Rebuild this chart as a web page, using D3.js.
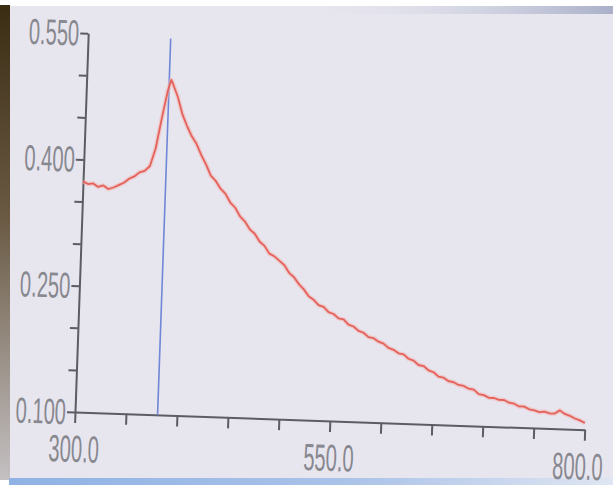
<!DOCTYPE html>
<html>
<head>
<meta charset="utf-8">
<script src="https://cdn.jsdelivr.net/npm/d3@7"></script>
<style>
  html, body { margin: 0; padding: 0; background: #ffffff; }
  svg { display: block; }
</style>
</head>
<body>
<svg id="chart" width="613" height="491"></svg>
<script>
// Absorption spectrum: wavelength (nm) vs absorbance
const wavelengths = [
  300, 305, 310, 315, 320, 325, 330, 335, 340, 345, 350, 355, 360, 365, 370, 375, 380, 383, 385,
  390, 395, 400, 405, 410, 415, 420, 425, 430, 435, 440, 445, 450, 455, 460, 465, 470, 475, 480,
  485, 490, 495, 500, 505, 510, 515, 520, 525, 530, 535, 540, 545, 550, 555, 560, 565, 570, 575,
  580, 585, 590, 595, 600, 605, 610, 615, 620, 625, 630, 635, 640, 645, 650, 655, 660, 665, 670,
  675, 680, 685, 690, 695, 700, 705, 710, 715, 720, 725, 730, 735, 740, 745, 750, 755, 760, 765,
  770, 775, 780, 785, 790, 795, 800
];
const absorbance = [
  0.374, 0.371, 0.372, 0.368, 0.370, 0.366, 0.368, 0.371, 0.374, 0.379, 0.382, 0.387, 0.389, 0.395, 0.416, 0.452, 0.485, 0.498, 0.493,
  0.478, 0.458, 0.444, 0.432, 0.423, 0.410, 0.399, 0.386, 0.380, 0.371, 0.365, 0.355, 0.349, 0.339, 0.333, 0.324, 0.319, 0.310, 0.305,
  0.296, 0.293, 0.288, 0.283, 0.274, 0.269, 0.261, 0.255, 0.247, 0.243, 0.237, 0.235, 0.229, 0.227, 0.222, 0.221, 0.215, 0.213, 0.208,
  0.206, 0.201, 0.200, 0.196, 0.194, 0.189, 0.187, 0.183, 0.182, 0.177, 0.175, 0.170, 0.169, 0.164, 0.162, 0.157, 0.156, 0.152, 0.151,
  0.148, 0.147, 0.144, 0.143, 0.138, 0.137, 0.134, 0.134, 0.132, 0.132, 0.129, 0.128, 0.125, 0.125, 0.122, 0.121, 0.119, 0.120, 0.118,
  0.118, 0.122, 0.118, 0.116, 0.113, 0.111, 0.108
];

// Cursor marker wavelength
const cursorWavelength = [381];

// Axis ticks and labels
const xTickValues = [300, 350, 400, 450, 500, 550, 600, 650, 700, 750, 800];
const xLabelValues = [300, 550, 800];
const yTickValues = [0.10, 0.15, 0.20, 0.25, 0.30, 0.35, 0.40, 0.45, 0.50, 0.55];
const yLabelValues = [0.100, 0.250, 0.400, 0.550];

const svg = d3.select("#chart");
const W = 613, H = 491;

// ---- instrument screen backdrop ----
const defs = svg.append("defs");
const gLeft = defs.append("linearGradient").attr("id", "bezel").attr("x1", 0).attr("y1", 0).attr("x2", 0).attr("y2", 1);
gLeft.append("stop").attr("offset", 0).attr("stop-color", "#3b2c14");
gLeft.append("stop").attr("offset", 0.45).attr("stop-color", "#6a5a44");
gLeft.append("stop").attr("offset", 1).attr("stop-color", "#c4c0c2");
const gTop = defs.append("linearGradient").attr("id", "topband").attr("x1", 0).attr("y1", 0).attr("x2", 1).attr("y2", 0);
gTop.append("stop").attr("offset", 0).attr("stop-color", "#e5e4ee").attr("stop-opacity", 0);
gTop.append("stop").attr("offset", 1).attr("stop-color", "#a9b0c8");
const gBot = defs.append("linearGradient").attr("id", "botband").attr("x1", 0).attr("y1", 0).attr("x2", 1).attr("y2", 0);
gBot.append("stop").attr("offset", 0).attr("stop-color", "#8fb2e4");
gBot.append("stop").attr("offset", 0.55).attr("stop-color", "#a9c2e8");
gBot.append("stop").attr("offset", 1).attr("stop-color", "#dfe5f2");

svg.append("rect").attr("x", 0).attr("y", 0).attr("width", W).attr("height", H).attr("fill", "#ffffff");
svg.append("rect").attr("x", 9).attr("y", 6).attr("width", W - 9).attr("height", 474).attr("fill", "#e7e6ef");
svg.append("rect").attr("x", 0).attr("y", 5).attr("width", 10).attr("height", 475).attr("fill", "url(#bezel)");
svg.append("rect").attr("x", 300).attr("y", 6).attr("width", W - 300).attr("height", 8).attr("fill", "url(#topband)");
svg.append("rect").attr("x", 9).attr("y", 478).attr("width", W - 9).attr("height", 7).attr("fill", "url(#botband)");

// ---- chart ----
const origin = { x: 75, y: 412 };
const plotW = 510, plotH = 379;

const x = d3.scaleLinear().domain([300, 800]).range([origin.x, origin.x + plotW]);
const y = d3.scaleLinear().domain([0.10, 0.55]).range([origin.y, origin.y - plotH]);

const g = svg.append("g").attr("transform", `rotate(2.0, ${origin.x}, ${origin.y})`);

const axisColor = "#5c5c64";
const textColor = "#88888f";

// X axis
const xAxis = d3.axisBottom(x).tickValues(xTickValues).tickFormat("").tickSize(11).tickSizeOuter(0);
const gx = g.append("g").attr("transform", `translate(0,${origin.y})`).call(xAxis);
gx.select(".domain").attr("stroke", axisColor).attr("stroke-width", 2);
gx.selectAll(".tick line").attr("stroke", axisColor).attr("stroke-width", 2);

// Y axis
const yAxis = d3.axisLeft(y).tickValues(yTickValues).tickFormat("").tickSize(8).tickSizeOuter(0);
const gy = g.append("g").attr("transform", `translate(${origin.x},0)`).call(yAxis);
gy.select(".domain").attr("stroke", axisColor).attr("stroke-width", 2);
gy.selectAll(".tick line").attr("stroke", axisColor).attr("stroke-width", 2);

// Tall, narrow numerals like the instrument display
const fontSize = 36, squeeze = 0.56;
g.selectAll(".ylab").data(yLabelValues).join("text")
  .attr("class", "ylab")
  .attr("transform", d => `translate(${origin.x - 9},${y(d) + 12.5}) scale(${squeeze},1)`)
  .attr("text-anchor", "end")
  .attr("font-family", "'Liberation Sans', Arial, sans-serif")
  .attr("font-size", fontSize)
  .attr("fill", textColor)
  .text(d => d3.format(".3f")(d));

// the rightmost label is kept inside the screen edge
const xLabelShift = d => (d === 800 ? -6 : 0);
g.selectAll(".xlab").data(xLabelValues).join("text")
  .attr("class", "xlab")
  .attr("transform", d => `translate(${x(d) + xLabelShift(d)},${origin.y + 50}) scale(${squeeze},1.05)`)
  .attr("text-anchor", "middle")
  .attr("font-family", "'Liberation Sans', Arial, sans-serif")
  .attr("font-size", fontSize)
  .attr("fill", textColor)
  .text(d => d3.format(".1f")(d));

// Cursor line
g.selectAll(".cursor").data(cursorWavelength).join("line")
  .attr("class", "cursor")
  .attr("x1", d => x(d)).attr("x2", d => x(d))
  .attr("y1", y(0.10)).attr("y2", y(0.547))
  .attr("stroke", "#6f87d6").attr("stroke-width", 1.6);

// Spectrum trace
const pts = wavelengths.map((w, i) => [w, absorbance[i]]);
const line = d3.line().x(d => x(d[0])).y(d => y(d[1])).curve(d3.curveLinear);

g.append("path").datum(pts)
  .attr("d", line).attr("fill", "none")
  .attr("stroke", "#f3b2ae").attr("stroke-width", 4.5).attr("stroke-opacity", 0.55)
  .attr("stroke-linejoin", "round");
g.append("path").datum(pts)
  .attr("d", line).attr("fill", "none")
  .attr("stroke", "#e4625b").attr("stroke-width", 1.8)
  .attr("stroke-linejoin", "round");
</script>
</body>
</html>
